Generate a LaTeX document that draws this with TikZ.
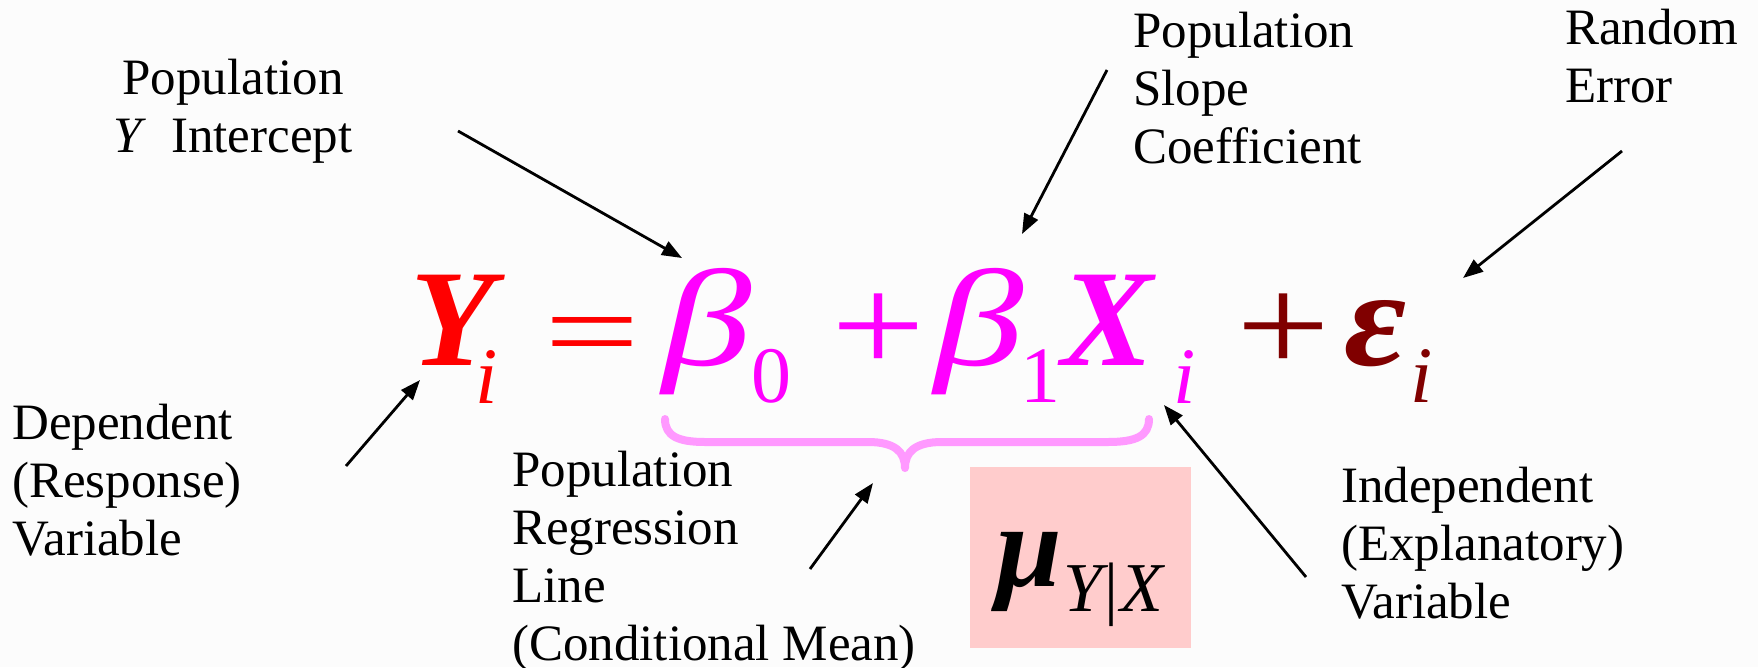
\documentclass[tikz,border=0pt]{standalone}
\usepackage{fontspec}
\usepackage{graphicx}
\setmainfont{Liberation Serif}
\usetikzlibrary{arrows.meta}
\definecolor{eqred}{HTML}{FF0000}
\definecolor{eqmag}{HTML}{FF00FF}
\definecolor{eqdark}{HTML}{800000}
\definecolor{bracepink}{HTML}{FF99FF}
\definecolor{boxpink}{HTML}{FFCCCC}
\definecolor{bgwhite}{HTML}{FCFCFC}
\tikzset{
  lbl/.style={inner sep=0pt, anchor=base west, align=left, font=\fontsize{51}{58}\selectfont},
  big/.style={inner sep=0pt, anchor=base west, font=\fontsize{138}{140}\selectfont},
  bigop/.style={inner sep=0pt, anchor=base west, font=\fontsize{145}{145}\selectfont},
  sub/.style={inner sep=0pt, anchor=base west, font=\fontsize{80}{80}\selectfont},
  ptr/.style={line width=2.8pt, -{Triangle[length=20pt,width=15pt]}},
}
\begin{document}
\begin{tikzpicture}[x=1pt,y=-1pt]
\fill[bgwhite] (0,0) rectangle (1758,667);
\useasboundingbox (0,0) rectangle (1758,667);

% labels (base = baseline of the last line)
\node[lbl, align=center, anchor=base] (intercept) at (233,152) {Population\\\textit{Y}\hspace{12pt} Intercept};
\node[lbl] (slope) at (1133,163) {Population\\Slope\\Coefficient};
\node[lbl] (rerr) at (1565,102) {Random\\Error};
\node[lbl] (dep) at (12,555) {Dependent\\(Response)\\Variable};
\node[lbl] (prl) at (512,660) {Population\\Regression\\Line\\(Conditional Mean)};
\node[lbl] (indep) at (1341,618) {Independent\\(Explanatory)\\Variable};

% equation
\node[big, text=eqred] (Y) at (410,365) {\bfseries\itshape Y};
\node[sub, text=eqred] (Yi) at (475,403) {\itshape i};
\node[bigop, text=eqred] (eq) at (544,370) {\scalebox{1.17}[0.8]{=}};
\node[big, text=eqmag] (b0) at (662,365) {\scalebox{1.3}[1]{\itshape β}};
\node[sub, text=eqmag] (b0s) at (751,402) {0};
\node[bigop, text=eqmag] (p1) at (831,372) {\scalebox{1.15}[0.96]{+}};
\node[big, text=eqmag] (b1) at (934,365) {\scalebox{1.3}[1]{\itshape β}};
\node[sub, text=eqmag] (b1s) at (1020,402) {1};
\node[big, text=eqmag] (X) at (1061,365) {\bfseries\itshape X};
\node[sub, text=eqmag] (Xi) at (1173,403) {\itshape i};
\node[bigop, text=eqdark] (p2) at (1236,372) {\scalebox{1.15}[0.96]{+}};
\node[big, text=eqdark] (eps) at (1344,365) {\scalebox{1.1}[1]{\bfseries\itshape ε}};
\node[sub, text=eqdark] (epsi) at (1410,402) {\itshape i};

% brace
\draw[bracepink, line width=8pt, line cap=round, line join=round]
  (665,419) .. controls (665,436) and (678,442) .. (705,442) -- (868,442)
  .. controls (895,442) and (905,452) .. (905,468)
  .. controls (905,452) and (915,442) .. (942,442) -- (1108,442)
  .. controls (1136,442) and (1149,436) .. (1149,419);

% mu box
\node[fill=boxpink, minimum width=221pt, minimum height=181pt, inner sep=0pt, anchor=north west] (mubox) at (970,467) {};
\node[inner sep=0pt, anchor=base west, font=\fontsize{118}{118}\selectfont] (mu) at (996,586) {\bfseries\itshape μ};
\node[inner sep=0pt, anchor=base west, font=\fontsize{70}{70}\selectfont] (musub) at (1063,611) {\itshape Y\kern2pt\upshape|\kern2pt\itshape X};

% arrows
\coordinate (a1s) at (458,131); \coordinate (a1e) at (682,258);
\coordinate (a2s) at (1107,70);  \coordinate (a2e) at (1022,234);
\coordinate (a3s) at (1622,151); \coordinate (a3e) at (1463,278);
\coordinate (a4s) at (346,466);  \coordinate (a4e) at (420,380);
\coordinate (a5s) at (810,569);  \coordinate (a5e) at (873,483);
\coordinate (a6s) at (1306,577); \coordinate (a6e) at (1164,405);
\draw[ptr] (a1s) -- (a1e);
\draw[ptr] (a2s) -- (a2e);
\draw[ptr] (a3s) -- (a3e);
\draw[ptr] (a4s) -- (a4e);
\draw[ptr] (a5s) -- (a5e);
\draw[ptr] (a6s) -- (a6e);
\end{tikzpicture}
\end{document}
